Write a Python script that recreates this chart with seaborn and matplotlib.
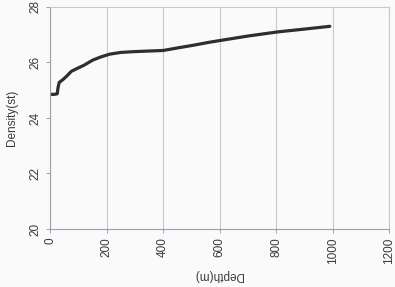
import matplotlib
matplotlib.use("Agg")
import matplotlib.pyplot as plt
import seaborn as sns
import pandas as pd

depth = [5, 15, 25, 28, 32, 45, 60, 75, 95, 120, 150, 180, 212, 250, 300, 350, 400, 450, 513, 560, 608, 700, 806, 900, 990]
density = [24.85, 24.85, 24.87, 25.1, 25.28, 25.38, 25.52, 25.68, 25.78, 25.9, 26.08, 26.2, 26.3, 26.36, 26.39, 26.41, 26.43, 26.52, 26.63, 26.72, 26.8, 26.95, 27.1, 27.2, 27.3]
x_ticks = [0, 200, 400, 600, 800, 1000, 1200]
y_ticks = [20, 22, 24, 26, 28]

df = pd.DataFrame({"Depth": depth, "Density": density})

sns.set_theme(style="white")
plt.rcParams['font.family'] = ['Liberation Sans', 'DejaVu Sans']

fig = plt.figure(figsize=(3.95, 2.87), dpi=100)
fig.patch.set_facecolor("#fafafa")
ax = fig.add_axes([0.127, 0.202, 0.858, 0.774])
ax.set_facecolor("#fafafa")

sns.lineplot(data=df, x="Depth", y="Density", ax=ax, color="#2e2e2e", linewidth=2.3)

ax.set_xlim(0, 1200)
ax.set_ylim(20, 28)
ax.set_xticks(x_ticks)
ax.set_yticks(y_ticks)
ax.set_xticklabels([str(t) for t in x_ticks], rotation=90, fontsize=8.5, color="#3a3a3a")
ax.set_yticklabels([str(t) for t in y_ticks], rotation=90, fontsize=8.5, color="#3a3a3a", va="center")

ax.xaxis.grid(True, color="#c5c9d6", linewidth=0.8)
ax.yaxis.grid(False)
ax.tick_params(axis="both", length=3, width=0.7, color="#9aa0b0", pad=3)
ax.tick_params(axis="x", bottom=True)
ax.tick_params(axis="y", left=True)

for side in ["left", "bottom"]:
    ax.spines[side].set_color("#9aa0b0")
    ax.spines[side].set_linewidth(0.8)
for side in ["top", "right"]:
    ax.spines[side].set_color("#c5c9d6")
    ax.spines[side].set_linewidth(0.8)

ax.set_xlabel("Depth(m)", rotation=180, fontsize=8.5, color="#3a3a3a", va="center", ha="center")
ax.xaxis.set_label_coords(0.495, -0.207)
ax.set_ylabel("Density(st)", fontsize=8.5, color="#3a3a3a", va="center")
ax.yaxis.set_label_coords(-0.112, 0.5)

fig.savefig("out.png", dpi=100, facecolor=fig.get_facecolor())
